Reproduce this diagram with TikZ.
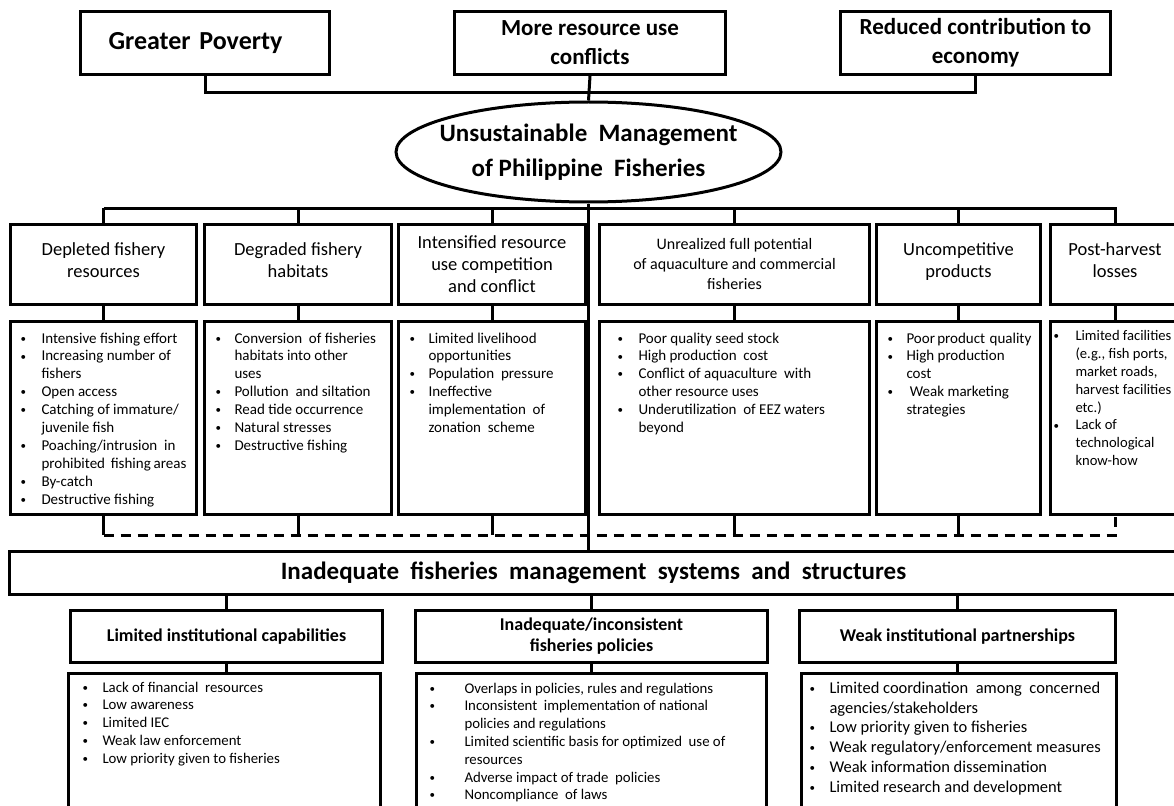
\documentclass[tikz,border=0pt]{standalone}
\usepackage{fontspec}
\setmainfont{Carlito}
\usetikzlibrary{shapes.geometric}

\newcommand\ftop{\fontsize{23}{29}\selectfont\bfseries}
\newcommand\fell{\fontsize{25}{35}\selectfont\bfseries}
\newcommand\fcat{\fontsize{18.5}{22}\selectfont}
\newcommand\fcatb{\fontsize{16}{20}\selectfont}
\newcommand\flst{\fontsize{15}{17.9}\selectfont}
\newcommand\fmid{\fontsize{25}{30}\selectfont\bfseries}
\newcommand\fbt{\fontsize{18}{21}\selectfont\bfseries}
\newcommand\fbl{\fontsize{14.8}{17.8}\selectfont}
\newcommand\fbw{\fontsize{16.5}{19.8}\selectfont}

% bullet lines, one full-width box per line
\newlength\bind
\newcommand\bdot{\raisebox{0.12ex}{\fontsize{11}{11}\selectfont\textbullet}}
\newcommand\bitem[1]{\hbox to\hsize{\makebox[\bind][l]{\bdot}#1\hfil}}
\newcommand\bcont[1]{\hbox to\hsize{\kern\bind #1\hfil}}
\newcommand\blist[5]{\parbox[t][#1pt][t]{#2pt}{\setlength\bind{#3pt}\vspace*{#4pt}\hbox to\hsize{}#5}}
\newcommand\lift{\rule[-8pt]{0pt}{8pt}}

\begin{document}
\begin{tikzpicture}[x=1pt, y=-1pt, line width=3pt,
   box/.style={draw, inner sep=0pt, anchor=north west, align=center},
   lst/.style={draw, inner xsep=#1, inner ysep=0pt, anchor=north west},
   dashline/.style={dash pattern=on 10pt off 7pt}]
\useasboundingbox (0,0) rectangle (1174,805);

% effects
\node[box, minimum width=249, minimum height=63, text width=193, inner xsep=28pt,
      align=left, font=\fontsize{26}{29}\selectfont\bfseries] (gp) at (79,10) {Greater Poverty};
\node[box, minimum width=271, minimum height=63, font=\ftop] (mr) at (453,10)
   {More resource use\\conflicts};
\node[box, minimum width=270, minimum height=63, font=\ftop] (rc) at (839,10)
   {Reduced contribution to\\economy};

% core problem
\node[draw, ellipse, minimum width=385, minimum height=100, inner sep=0pt,
      label={[font=\fell, align=center]center:{Unsustainable\ \ Management\\of Philippine\ \ Fisheries}}]
      (um) at (588.5,152) {};

% direct causes
\node[box, minimum width=186, minimum height=80, font=\fcat] (d1) at (9,223) {Depleted fishery\\resources\lift};
\node[box, minimum width=187, minimum height=80, font=\fcat] (d2) at (203,223) {Degraded fishery\\habitats\lift};
\node[box, minimum width=187, minimum height=80, font=\fcat] (d3) at (397,223) {Intensified resource\\use competition\\and conflict};
\node[box, minimum width=270, minimum height=80, font=\fcatb] (d4) at (598,223) {Unrealized full potential\\of aquaculture and commercial\\fisheries};
\node[box, minimum width=164, minimum height=80, font=\fcat] (d5) at (875,223) {Uncompetitive\\products\lift};
\node[box, minimum width=129, minimum height=80, font=\fcat] (d6) at (1049,223) {Post-harvest\\losses\lift};

\node[lst=10pt, font=\flst] (l1) at (9,320) {\blist{193}{166}{21}{3.6}{%
   \bitem{Intensive fishing effort}
   \bitem{Increasing number of}
   \bcont{fishers}
   \bitem{Open access}
   \bitem{Catching of immature/}
   \bcont{juvenile fish}
   \bitem{Poaching/intrusion\ \ in}
   \bcont{prohibited\ \ fishing areas}
   \bitem{By-catch}
   \bitem{Destructive fishing}}};
\node[lst=11pt, font=\flst] (l2) at (203,320) {\blist{193}{165}{19}{3.6}{%
   \bitem{Conversion\ \ of fisheries}
   \bcont{habitats into other}
   \bcont{uses}
   \bitem{Pollution\ \ and siltation}
   \bitem{Read tide occurrence}
   \bitem{Natural stresses}
   \bitem{Destructive fishing}}};
\node[lst=11pt, font=\flst] (l3) at (397,320) {\blist{193}{165}{19}{3.6}{%
   \bitem{Limited livelihood}
   \bcont{opportunities}
   \bitem{Population\ \ pressure}
   \bitem{Ineffective}
   \bcont{implementation\ \ of}
   \bcont{zonation\ \ scheme}}};
\node[lst=18pt, font=\flst] (l4) at (598,320) {\blist{193}{234}{21}{3.6}{%
   \bitem{Poor quality seed stock}
   \bitem{High production\ \ cost}
   \bitem{Conflict of aquaculture\ \ with}
   \bcont{other resource uses}
   \bitem{Underutilization\ \ of EEZ waters}
   \bcont{beyond}}};
\node[lst=11pt, font=\flst] (l5) at (875,320) {\blist{193}{142}{19}{3.6}{%
   \bitem{Poor product\ \ quality}
   \bitem{High production}
   \bcont{cost}
   \bitem{\ Weak marketing}
   \bcont{strategies}}};
\node[lst=3pt, font=\fontsize{14.6}{17.9}\selectfont] (l6) at (1049,320) {\blist{193}{123}{22}{1}{%
   \bitem{Limited facilities}
   \bcont{(e.g., fish ports,}
   \bcont{market roads,}
   \bcont{harvest facilities}
   \bcont{etc.)}
   \bitem{Lack of}
   \bcont{technological}
   \bcont{know-how}}};

% root cause
\node[box, minimum width=1168, minimum height=43, font=\fmid] (im) at (8,550)
   {Inadequate\ \ fisheries\ \ management\ \ systems\ \ and\ \ structures};

\node[box, minimum width=312, minimum height=52, font=\fbt] (t1) at (69,609) {Limited institutional capabilities};
\node[box, minimum width=352, minimum height=52, font=\fbt] (t2) at (414,609) {Inadequate/inconsistent\\fisheries policies};
\node[box, minimum width=316, minimum height=52, font=\fbt] (t3) at (798,609) {Weak institutional partnerships};

\node[lst=14pt, font=\fbl] (m1) at (67,672) {\blist{160}{284}{20}{0.7}{%
   \bitem{Lack of financial\ \ resources}
   \bitem{Low awareness}
   \bitem{Limited IEC}
   \bitem{Weak law enforcement}
   \bitem{Low priority given to fisheries}}};
\node[lst=13pt, font=\fbl] (m2) at (415,672) {\blist{160}{324}{35}{1.7}{%
   \bitem{Overlaps in policies, rules and regulations}
   \bitem{Inconsistent\ \ implementation of national}
   \bcont{policies and regulations}
   \bitem{Limited scientific basis for optimized\ \ use of}
   \bcont{resources}
   \bitem{Adverse impact of trade\ \ policies}
   \bitem{Noncompliance\ \ of laws}}};
\node[lst=8pt, font=\fbw] (m3) at (800,672) {\blist{160}{299}{20}{0}{%
   \bitem{Limited coordination\ \ among\ \ concerned}
   \bcont{agencies/stakeholders}
   \bitem{Low priority given to fisheries}
   \bitem{Weak regulatory/enforcement measures}
   \bitem{Weak information dissemination}
   \bitem{Limited research and development}}};

% connectors
\draw (gp.south) -- ++(0,17) -| (rc.south);
\draw (mr.south) -- (um.north);
\draw (um.south) -- (um.south |- im.north);
\foreach \i in {1,...,6} \draw (d\i.north) -- ++(0,-15);
\draw (d1.north) ++(0,-15) -| (d6.north);
\foreach \i in {1,...,6} \draw (d\i.south) -- (l\i.north);
\foreach \i in {1,...,5} \draw (l\i.south) -- ++(0,19);
\draw[dashline] (l1.south) ++(0,19) -| (l6.south);
\foreach \i in {1,2,3} {
   \draw (t\i.north |- im.south) -- (t\i.north);
   \draw (t\i.south) -- (t\i.south |- m\i.north);
}
\end{tikzpicture}
\end{document}
